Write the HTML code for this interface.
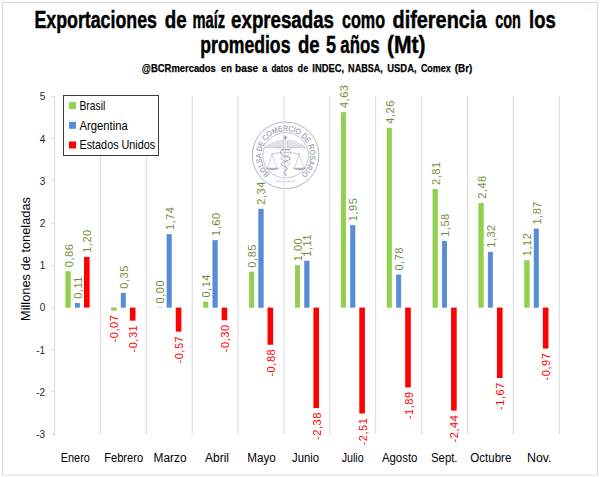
<!DOCTYPE html><html><head><meta charset="utf-8"><style>html,body{margin:0;padding:0;background:#fff;width:600px;height:477px;overflow:hidden}svg{display:block}text{font-family:"Liberation Sans",sans-serif}</style></head><body>
<svg width="600" height="477" viewBox="0 0 600 477">
<rect x="2.5" y="2.5" width="595" height="472.5" fill="#fff" stroke="#D9D9D9" stroke-width="1"/>
<text x="34.43" y="27.9" font-size="23" font-weight="bold" fill="#000" stroke="#000" stroke-width="0.45" textLength="122.53" lengthAdjust="spacingAndGlyphs">Exportaciones</text>
<text x="164.72" y="27.9" font-size="23" font-weight="bold" fill="#000" stroke="#000" stroke-width="0.45" textLength="21.84" lengthAdjust="spacingAndGlyphs">de</text>
<text x="192.42" y="27.9" font-size="23" font-weight="bold" fill="#000" stroke="#000" stroke-width="0.45" textLength="32.66" lengthAdjust="spacingAndGlyphs">maíz</text>
<text x="231.12" y="27.9" font-size="23" font-weight="bold" fill="#000" stroke="#000" stroke-width="0.45" textLength="102.83" lengthAdjust="spacingAndGlyphs">expresadas</text>
<text x="341.93" y="27.9" font-size="23" font-weight="bold" fill="#000" stroke="#000" stroke-width="0.45" textLength="43.14" lengthAdjust="spacingAndGlyphs">como</text>
<text x="392.53" y="27.9" font-size="23" font-weight="bold" fill="#000" stroke="#000" stroke-width="0.45" textLength="93.94" lengthAdjust="spacingAndGlyphs">diferencia</text>
<text x="495.23" y="27.9" font-size="23" font-weight="bold" fill="#000" stroke="#000" stroke-width="0.45" textLength="25.66" lengthAdjust="spacingAndGlyphs">con</text>
<text x="529.02" y="27.9" font-size="23" font-weight="bold" fill="#000" stroke="#000" stroke-width="0.45" textLength="26.65" lengthAdjust="spacingAndGlyphs">los</text>
<text x="200.32" y="52.7" font-size="23" font-weight="bold" fill="#000" stroke="#000" stroke-width="0.45" textLength="90.14" lengthAdjust="spacingAndGlyphs">promedios</text>
<text x="297.93" y="52.7" font-size="23" font-weight="bold" fill="#000" stroke="#000" stroke-width="0.45" textLength="21.64" lengthAdjust="spacingAndGlyphs">de</text>
<text x="325.93" y="52.7" font-size="23" font-weight="bold" fill="#000" stroke="#000" stroke-width="0.45" textLength="10.07" lengthAdjust="spacingAndGlyphs">5</text>
<text x="340.33" y="52.7" font-size="23" font-weight="bold" fill="#000" stroke="#000" stroke-width="0.45" textLength="39.33" lengthAdjust="spacingAndGlyphs">años</text>
<text x="386.93" y="52.7" font-size="23" font-weight="bold" fill="#000" stroke="#000" stroke-width="0.45" textLength="38.64" lengthAdjust="spacingAndGlyphs">(Mt)</text>
<text x="141.82" y="72" font-size="11.8" font-weight="bold" fill="#000" stroke="#000" stroke-width="0.25" textLength="74.04" lengthAdjust="spacingAndGlyphs">@BCRmercados</text>
<text x="221.12" y="72" font-size="11.8" font-weight="bold" fill="#000" stroke="#000" stroke-width="0.25" textLength="10.95" lengthAdjust="spacingAndGlyphs">en</text>
<text x="235.12" y="72" font-size="11.8" font-weight="bold" fill="#000" stroke="#000" stroke-width="0.25" textLength="23.04" lengthAdjust="spacingAndGlyphs">base</text>
<text x="262.32" y="72" font-size="11.8" font-weight="bold" fill="#000" stroke="#000" stroke-width="0.25" textLength="4.99" lengthAdjust="spacingAndGlyphs">a</text>
<text x="271.43" y="72" font-size="11.8" font-weight="bold" fill="#000" stroke="#000" stroke-width="0.25" textLength="21.45" lengthAdjust="spacingAndGlyphs">datos</text>
<text x="297.62" y="72" font-size="11.8" font-weight="bold" fill="#000" stroke="#000" stroke-width="0.25" textLength="10.55" lengthAdjust="spacingAndGlyphs">de</text>
<text x="312.32" y="72" font-size="11.8" font-weight="bold" fill="#000" stroke="#000" stroke-width="0.25" textLength="31.84" lengthAdjust="spacingAndGlyphs">INDEC,</text>
<text x="348.12" y="72" font-size="11.8" font-weight="bold" fill="#000" stroke="#000" stroke-width="0.25" textLength="34.76" lengthAdjust="spacingAndGlyphs">NABSA,</text>
<text x="387.32" y="72" font-size="11.8" font-weight="bold" fill="#000" stroke="#000" stroke-width="0.25" textLength="29.24" lengthAdjust="spacingAndGlyphs">USDA,</text>
<text x="420.93" y="72" font-size="11.8" font-weight="bold" fill="#000" stroke="#000" stroke-width="0.25" textLength="29.75" lengthAdjust="spacingAndGlyphs">Comex</text>
<text x="454.82" y="72" font-size="11.8" font-weight="bold" fill="#000" stroke="#000" stroke-width="0.25" textLength="17.55" lengthAdjust="spacingAndGlyphs">(Br)</text>
<g fill="none" stroke="#9AA3B2" stroke-width="0.8">
<circle cx="285.6" cy="155.3" r="33.3"/><circle cx="285.6" cy="155.3" r="22.7" stroke-width="0.6"/>
</g>
<defs><path id="arc" d="M 269.82 173.78 A 24.3 24.3 0 1 1 301.38 173.78"/></defs>
<text font-size="7.8" fill="#9AA3B2" stroke="#9AA3B2" stroke-width="0.2"><textPath href="#arc" textLength="118.3" lengthAdjust="spacingAndGlyphs">BOLSA DE COMERCIO DE ROSARIO</textPath></text>
<g fill="none" stroke="#9AA3B2" stroke-width="0.6" stroke-linecap="round">
<line x1="285.1" y1="137" x2="285.1" y2="176"/>
<circle cx="285.1" cy="137.6" r="1.5" fill="#9AA3B2"/>
<path d="M 265.5 147.6 Q 272 141.5 283.5 140.2 L 283.5 148.2 Q 274 147.4 265.5 147.6 Z" fill="#F0F2F5" stroke-width="0.45"/>
<path d="M 305.5 147.6 Q 299 141.5 287.5 140.2 L 287.5 148.2 Q 297 147.4 305.5 147.6 Z" fill="#F0F2F5" stroke-width="0.45"/>
<path d="M 267.5 146.5 L 283 141.8 M 270 147.3 L 283 143.6 M 273.5 147.6 L 283 145.3 M 277.5 147.7 L 283 146.9 M 303.5 146.5 L 288 141.8 M 301 147.3 L 288 143.6 M 297.5 147.6 L 288 145.3 M 293.5 147.7 L 288 146.9" stroke-width="0.35"/>
<path d="M 290 149.5 Q 279 149 280.5 153 Q 282 156.5 289 157 Q 293 159 285 161.5 Q 278 163.5 283.5 166 Q 290 168 285.5 170.5 Q 282 172.5 286.5 175" stroke-width="1"/>
<path d="M 281 149.5 Q 292 149 290.5 153 Q 289 156.5 282 157 Q 278 159 286 161.5 Q 293 163.5 287.5 166" stroke-width="0.6"/>
<path d="M 272 154 Q 285.5 151 299 154" stroke-width="0.6"/>
<path d="M 272 154 L 267.5 168.5 M 272 154 L 277.5 168.5 M 299 154 L 294.5 168.5 M 299 154 L 304 168.5" stroke-width="0.45"/>
<path d="M 266.5 168.3 Q 272.5 171.5 278.5 168.3 Z M 293.5 168.3 Q 299.5 171.5 305.5 168.3 Z" fill="#9AA3B2" stroke-width="0.5"/>
<path d="M 276 181 Q 285.5 183 295 181" stroke-width="0.5"/>
</g>
<g stroke="#D9D9D9" stroke-width="1">
<line x1="100.39" y1="96" x2="100.39" y2="434"/>
<line x1="146.27" y1="96" x2="146.27" y2="434"/>
<line x1="192.16" y1="96" x2="192.16" y2="434"/>
<line x1="238.05" y1="96" x2="238.05" y2="434"/>
<line x1="283.93" y1="96" x2="283.93" y2="434"/>
<line x1="329.82" y1="96" x2="329.82" y2="434"/>
<line x1="375.70" y1="96" x2="375.70" y2="434"/>
<line x1="421.59" y1="96" x2="421.59" y2="434"/>
<line x1="467.48" y1="96" x2="467.48" y2="434"/>
<line x1="513.36" y1="96" x2="513.36" y2="434"/>
<line x1="559.25" y1="96" x2="559.25" y2="434"/>
</g>
<g stroke="#DADADA" stroke-width="1">
<line x1="54.5" y1="96" x2="54.5" y2="435"/>
<line x1="51" y1="96.5" x2="54.5" y2="96.5"/>
<line x1="51" y1="138.5" x2="54.5" y2="138.5"/>
<line x1="51" y1="180.5" x2="54.5" y2="180.5"/>
<line x1="51" y1="223.5" x2="54.5" y2="223.5"/>
<line x1="51" y1="265.5" x2="54.5" y2="265.5"/>
<line x1="51" y1="307.5" x2="54.5" y2="307.5"/>
<line x1="51" y1="349.5" x2="54.5" y2="349.5"/>
<line x1="51" y1="391.5" x2="54.5" y2="391.5"/>
<line x1="51" y1="434.5" x2="54.5" y2="434.5"/>
</g>
<text x="45.2" y="100.40" font-size="10" fill="#1E1E1E" text-anchor="end">5</text>
<text x="45.2" y="142.60" font-size="10" fill="#1E1E1E" text-anchor="end">4</text>
<text x="45.2" y="184.80" font-size="10" fill="#1E1E1E" text-anchor="end">3</text>
<text x="45.2" y="227.00" font-size="10" fill="#1E1E1E" text-anchor="end">2</text>
<text x="45.2" y="269.20" font-size="10" fill="#1E1E1E" text-anchor="end">1</text>
<text x="45.2" y="311.40" font-size="10" fill="#1E1E1E" text-anchor="end">0</text>
<text x="45.2" y="353.60" font-size="10" fill="#1E1E1E" text-anchor="end">-1</text>
<text x="45.2" y="395.80" font-size="10" fill="#1E1E1E" text-anchor="end">-2</text>
<text x="45.2" y="438.00" font-size="10" fill="#1E1E1E" text-anchor="end">-3</text>
<text transform="translate(30,321) rotate(-90)" font-size="12.3" fill="#000" textLength="124" lengthAdjust="spacingAndGlyphs">Millones de toneladas</text>
<rect x="65.84" y="271.56" width="4.50" height="35.79" fill="#92D050" stroke="#7FC63C" stroke-width="0.5"/>
<text transform="translate(72.59,267.21) rotate(-90)" font-size="11" fill="#71903A" textLength="23.06" lengthAdjust="spacing">0,86</text>
<rect x="75.19" y="303.21" width="4.50" height="4.14" fill="#558ED5" stroke="#4A80CF" stroke-width="0.5"/>
<text transform="translate(81.94,298.86) rotate(-90)" font-size="11" fill="#71903A" textLength="22.24" lengthAdjust="spacing">0,11</text>
<rect x="83.99" y="256.96" width="5.60" height="50.64" fill="#FF0000"/>
<text transform="translate(91.29,252.86) rotate(-90)" font-size="11" fill="#71903A" textLength="23.06" lengthAdjust="spacing">1,20</text>
<rect x="111.73" y="307.85" width="4.50" height="2.45" fill="#92D050" stroke="#7FC63C" stroke-width="0.5"/>
<text transform="translate(118.48,315.15) rotate(-90)" font-size="11" fill="#FF0000" text-anchor="end" textLength="27.27" lengthAdjust="spacing">-0,07</text>
<rect x="121.08" y="293.08" width="4.50" height="14.27" fill="#558ED5" stroke="#4A80CF" stroke-width="0.5"/>
<text transform="translate(127.83,288.73) rotate(-90)" font-size="11" fill="#71903A" textLength="23.06" lengthAdjust="spacing">0,35</text>
<rect x="129.88" y="307.60" width="5.60" height="13.08" fill="#FF0000"/>
<text transform="translate(137.18,325.28) rotate(-90)" font-size="11" fill="#FF0000" text-anchor="end" textLength="27.27" lengthAdjust="spacing">-0,31</text>
<line x1="157.67" y1="307.60" x2="162.07" y2="307.60" stroke="#92D050" stroke-width="0.6"/>
<text transform="translate(164.37,303.50) rotate(-90)" font-size="11" fill="#71903A" textLength="23.06" lengthAdjust="spacing">0,00</text>
<rect x="166.97" y="234.42" width="4.50" height="72.93" fill="#558ED5" stroke="#4A80CF" stroke-width="0.5"/>
<text transform="translate(173.72,230.07) rotate(-90)" font-size="11" fill="#71903A" textLength="23.06" lengthAdjust="spacing">1,74</text>
<rect x="175.77" y="307.60" width="5.60" height="24.05" fill="#FF0000"/>
<text transform="translate(183.07,336.25) rotate(-90)" font-size="11" fill="#FF0000" text-anchor="end" textLength="27.27" lengthAdjust="spacing">-0,57</text>
<rect x="203.50" y="301.94" width="4.50" height="5.41" fill="#92D050" stroke="#7FC63C" stroke-width="0.5"/>
<text transform="translate(210.25,297.59) rotate(-90)" font-size="11" fill="#71903A" textLength="23.06" lengthAdjust="spacing">0,14</text>
<rect x="212.85" y="240.33" width="4.50" height="67.02" fill="#558ED5" stroke="#4A80CF" stroke-width="0.5"/>
<text transform="translate(219.60,235.98) rotate(-90)" font-size="11" fill="#71903A" textLength="23.06" lengthAdjust="spacing">1,60</text>
<rect x="221.65" y="307.60" width="5.60" height="12.66" fill="#FF0000"/>
<text transform="translate(228.95,324.86) rotate(-90)" font-size="11" fill="#FF0000" text-anchor="end" textLength="27.27" lengthAdjust="spacing">-0,30</text>
<rect x="249.39" y="271.98" width="4.50" height="35.37" fill="#92D050" stroke="#7FC63C" stroke-width="0.5"/>
<text transform="translate(256.14,267.63) rotate(-90)" font-size="11" fill="#71903A" textLength="23.06" lengthAdjust="spacing">0,85</text>
<rect x="258.74" y="209.10" width="4.50" height="98.25" fill="#558ED5" stroke="#4A80CF" stroke-width="0.5"/>
<text transform="translate(265.49,204.75) rotate(-90)" font-size="11" fill="#71903A" textLength="23.06" lengthAdjust="spacing">2,34</text>
<rect x="267.54" y="307.60" width="5.60" height="37.14" fill="#FF0000"/>
<text transform="translate(274.84,349.34) rotate(-90)" font-size="11" fill="#FF0000" text-anchor="end" textLength="27.27" lengthAdjust="spacing">-0,88</text>
<rect x="295.27" y="265.65" width="4.50" height="41.70" fill="#92D050" stroke="#7FC63C" stroke-width="0.5"/>
<text transform="translate(302.02,261.30) rotate(-90)" font-size="11" fill="#71903A" textLength="23.06" lengthAdjust="spacing">1,00</text>
<rect x="304.62" y="261.01" width="4.50" height="46.34" fill="#558ED5" stroke="#4A80CF" stroke-width="0.5"/>
<text transform="translate(311.38,256.66) rotate(-90)" font-size="11" fill="#71903A" textLength="22.24" lengthAdjust="spacing">1,11</text>
<rect x="313.43" y="307.60" width="5.60" height="100.44" fill="#FF0000"/>
<text transform="translate(320.73,412.64) rotate(-90)" font-size="11" fill="#FF0000" text-anchor="end" textLength="27.27" lengthAdjust="spacing">-2,38</text>
<rect x="341.16" y="112.46" width="4.50" height="194.89" fill="#92D050" stroke="#7FC63C" stroke-width="0.5"/>
<text transform="translate(347.91,108.11) rotate(-90)" font-size="11" fill="#71903A" textLength="23.06" lengthAdjust="spacing">4,63</text>
<rect x="350.51" y="225.56" width="4.50" height="81.79" fill="#558ED5" stroke="#4A80CF" stroke-width="0.5"/>
<text transform="translate(357.26,221.21) rotate(-90)" font-size="11" fill="#71903A" textLength="23.06" lengthAdjust="spacing">1,95</text>
<rect x="359.31" y="307.60" width="5.60" height="105.92" fill="#FF0000"/>
<text transform="translate(366.61,418.12) rotate(-90)" font-size="11" fill="#FF0000" text-anchor="end" textLength="27.27" lengthAdjust="spacing">-2,51</text>
<rect x="387.05" y="128.08" width="4.50" height="179.27" fill="#92D050" stroke="#7FC63C" stroke-width="0.5"/>
<text transform="translate(393.80,123.73) rotate(-90)" font-size="11" fill="#71903A" textLength="23.06" lengthAdjust="spacing">4,26</text>
<rect x="396.40" y="274.93" width="4.50" height="32.42" fill="#558ED5" stroke="#4A80CF" stroke-width="0.5"/>
<text transform="translate(403.15,270.58) rotate(-90)" font-size="11" fill="#71903A" textLength="23.06" lengthAdjust="spacing">0,78</text>
<rect x="405.20" y="307.60" width="5.60" height="79.76" fill="#FF0000"/>
<text transform="translate(412.50,391.96) rotate(-90)" font-size="11" fill="#FF0000" text-anchor="end" textLength="27.27" lengthAdjust="spacing">-1,89</text>
<rect x="432.93" y="189.27" width="4.50" height="118.08" fill="#92D050" stroke="#7FC63C" stroke-width="0.5"/>
<text transform="translate(439.68,184.92) rotate(-90)" font-size="11" fill="#71903A" textLength="23.06" lengthAdjust="spacing">2,81</text>
<rect x="442.28" y="241.17" width="4.50" height="66.18" fill="#558ED5" stroke="#4A80CF" stroke-width="0.5"/>
<text transform="translate(449.03,236.82) rotate(-90)" font-size="11" fill="#71903A" textLength="23.06" lengthAdjust="spacing">1,58</text>
<rect x="451.08" y="307.60" width="5.60" height="102.97" fill="#FF0000"/>
<text transform="translate(458.38,415.17) rotate(-90)" font-size="11" fill="#FF0000" text-anchor="end" textLength="27.27" lengthAdjust="spacing">-2,44</text>
<rect x="478.82" y="203.19" width="4.50" height="104.16" fill="#92D050" stroke="#7FC63C" stroke-width="0.5"/>
<text transform="translate(485.57,198.84) rotate(-90)" font-size="11" fill="#71903A" textLength="23.06" lengthAdjust="spacing">2,48</text>
<rect x="488.17" y="252.15" width="4.50" height="55.20" fill="#558ED5" stroke="#4A80CF" stroke-width="0.5"/>
<text transform="translate(494.92,247.80) rotate(-90)" font-size="11" fill="#71903A" textLength="23.06" lengthAdjust="spacing">1,32</text>
<rect x="496.97" y="307.60" width="5.60" height="70.47" fill="#FF0000"/>
<text transform="translate(504.27,382.67) rotate(-90)" font-size="11" fill="#FF0000" text-anchor="end" textLength="27.27" lengthAdjust="spacing">-1,67</text>
<rect x="524.71" y="260.59" width="4.50" height="46.76" fill="#92D050" stroke="#7FC63C" stroke-width="0.5"/>
<text transform="translate(531.46,256.24) rotate(-90)" font-size="11" fill="#71903A" textLength="23.06" lengthAdjust="spacing">1,12</text>
<rect x="534.06" y="228.94" width="4.50" height="78.41" fill="#558ED5" stroke="#4A80CF" stroke-width="0.5"/>
<text transform="translate(540.81,224.59) rotate(-90)" font-size="11" fill="#71903A" textLength="23.06" lengthAdjust="spacing">1,87</text>
<rect x="542.86" y="307.60" width="5.60" height="40.93" fill="#FF0000"/>
<text transform="translate(550.16,353.13) rotate(-90)" font-size="11" fill="#FF0000" text-anchor="end" textLength="27.27" lengthAdjust="spacing">-0,97</text>
<text x="75.32" y="461.6" font-size="12" fill="#000" text-anchor="middle" textLength="29.00" lengthAdjust="spacingAndGlyphs">Enero</text>
<text x="123.70" y="461.6" font-size="12" fill="#000" text-anchor="middle" textLength="39.00" lengthAdjust="spacingAndGlyphs">Febrero</text>
<text x="170.09" y="461.6" font-size="12" fill="#000" text-anchor="middle" textLength="33.00" lengthAdjust="spacingAndGlyphs">Marzo</text>
<text x="216.98" y="461.6" font-size="12" fill="#000" text-anchor="middle" textLength="24.00" lengthAdjust="spacingAndGlyphs">Abril</text>
<text x="261.49" y="461.6" font-size="12" fill="#000" text-anchor="middle" textLength="28.50" lengthAdjust="spacingAndGlyphs">Mayo</text>
<text x="305.50" y="461.6" font-size="12" fill="#000" text-anchor="middle" textLength="27.00" lengthAdjust="spacingAndGlyphs">Junio</text>
<text x="352.64" y="461.6" font-size="12" fill="#000" text-anchor="middle" textLength="22.00" lengthAdjust="spacingAndGlyphs">Julio</text>
<text x="399.65" y="461.6" font-size="12" fill="#000" text-anchor="middle" textLength="35.50" lengthAdjust="spacingAndGlyphs">Agosto</text>
<text x="444.28" y="461.6" font-size="12" fill="#000" text-anchor="middle" textLength="26.50" lengthAdjust="spacingAndGlyphs">Sept.</text>
<text x="490.80" y="461.6" font-size="12" fill="#000" text-anchor="middle" textLength="41.00" lengthAdjust="spacingAndGlyphs">Octubre</text>
<text x="539.31" y="461.6" font-size="12" fill="#000" text-anchor="middle" textLength="24.50" lengthAdjust="spacingAndGlyphs">Nov.</text>
<rect x="63.5" y="95.5" width="95" height="60" fill="#fff" stroke="#3C3C3C" stroke-width="1"/>
<rect x="69" y="102.10" width="7" height="7" fill="#92D050"/>
<text x="79.5" y="109.90" font-size="12.2" fill="#000" textLength="25.7" lengthAdjust="spacingAndGlyphs">Brasil</text>
<rect x="69" y="121.80" width="7" height="7" fill="#558ED5"/>
<text x="79.5" y="129.60" font-size="12.2" fill="#000" textLength="48.2" lengthAdjust="spacingAndGlyphs">Argentina</text>
<rect x="69" y="141.50" width="7" height="7" fill="#FF0000"/>
<text x="79.5" y="149.30" font-size="12.2" fill="#000" textLength="75.7" lengthAdjust="spacingAndGlyphs">Estados Unidos</text>
<rect x="588.5" y="9.5" width="1" height="1" fill="#E0B0A0"/>
</svg></body></html>
